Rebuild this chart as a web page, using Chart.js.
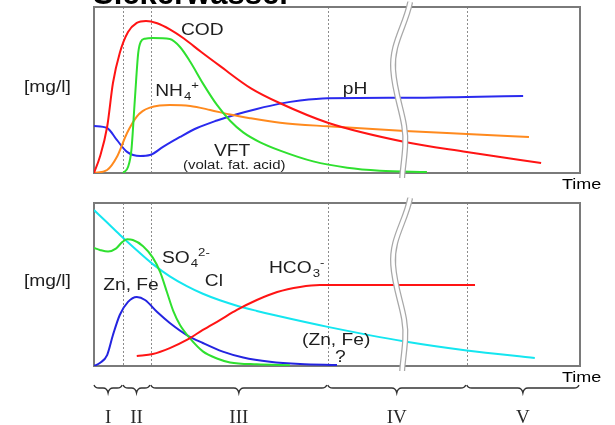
<!DOCTYPE html>
<html>
<head>
<meta charset="utf-8">
<script src="https://cdn.jsdelivr.net/npm/chart.js@4/dist/chart.umd.min.js"></script>
<style>
  html, body { margin: 0; padding: 0; background: #fff; }
  #wrap { position: relative; width: 615px; height: 425px; overflow: hidden; }
  canvas { position: absolute; left: 0; }
  #top { top: 0; }
  #bottom { top: 195px; }
</style>
</head>
<body>
<div id="wrap">
  <canvas id="top" width="615" height="195"></canvas>
  <canvas id="bottom" width="615" height="230"></canvas>
</div>
<script>
// time axis is schematic, 0..100; concentrations are relative, 0..100
const phaseBounds = [0, 6, 11.7, 48.1, 76.7, 100];
const phaseNames = ['I', 'II', 'III', 'IV', 'V'];
const breakAt = 63;

// upper panel: organic parameters [time, value]
const cod = [[0,0],[1.2,9.6],[2.7,27.7],[3.9,54.2],[5.3,72.3],[7,84.9],[8.8,90.4],[10.7,91.6],[13,90.2],
  [15.6,86.5],[18.5,81],[22,73],[25.9,64.5],[32.3,51],[38.3,42],[48.1,30.3],[64,18.7],[76.7,12.7],[87.7,7.8],[92,6]];
const nh4 = [[0,0],[2.7,1.8],[4.7,9.6],[6.8,24.1],[8.8,34],[10,37.3],[11.5,39.4],[13.5,40.6],[15.6,41],[19.8,40.4],
  [23.9,38],[28,35.2],[32.1,33],[38.3,30.3],[48.1,28.1],[64,25.3],[76.7,23.5],[89.5,21.7]];
const vft = [[6,0],[7,3.6],[7.7,13.9],[8.4,44],[9.1,72.3],[9.6,78.9],[10.5,80.9],[12.1,81.3],[15.6,80.7],
  [17.7,75.9],[19.8,67],[22.4,54],[25.3,41],[28,31.5],[30.7,24.5],[34.2,18.5],[38.3,13.5],[45.1,7],
  [52.1,3.2],[58.8,1.4],[68.5,0.6]];
const ph = [[0,28.3],[2.7,27.1],[4.7,19.9],[6.8,12.7],[9.5,10.2],[11.5,10.8],[14.2,15.7],[17.7,21.7],[21.2,27.1],
  [25.3,31.6],[29.4,35.4],[33.5,38.6],[38.3,41.8],[42.4,43.7],[48.1,45.1],[64,45.3],[76.7,45.8],[88.3,46.4]];

// lower panel: inorganic parameters [time, value]
const chloride = [[0,95.7],[2.7,88],[5.3,80.5],[8.8,71],[12.1,62.5],[15.6,55],[19.1,49],[22.4,44.3],
  [25.9,40.3],[29.4,37],[33.5,33.8],[37.7,30.8],[48.1,24],[64,15],[76.7,9.5],[90.7,4.9]];
const sulfate = [[0,72.4],[1.2,71.2],[2.9,70.2],[4.5,72],[5.8,76],[6.8,77.7],[8,77.3],[10.1,73.5],[12.1,66.5],
  [13.6,57.7],[15,45.4],[16.3,33.8],[17.7,25.2],[19.8,16.8],[22.4,9],[25.3,4.6],[28,2.2],[33.5,1],[40.3,0.5]];
const znFe = [[0,0],[1.2,1.8],[2.7,6.7],[3.9,19],[5.3,31.3],[7,39.3],[8.8,42.3],[10.5,40.5],[13,33.1],
  [15.6,26.4],[19.1,19],[22.4,14.1],[26.5,8.8],[30.7,5.2],[36.2,2.6],[42.4,1.2],[50,0.6]];
const hco3 = [[8.8,6.1],[12.1,7.4],[15.6,11],[19.1,16],[22.4,22.1],[25.9,28.2],[29.4,34.4],[33.5,40.5],
  [37.7,45.4],[42.4,48.5],[46.5,49.7],[48.1,49.7],[78.4,49.7]];

const SANS = '"Liberation Sans", Arial, sans-serif';
const SERIF = '"Liberation Serif", "Times New Roman", serif';

function write(ctx, s, x, y, size, o = {}) {
  const k = o.stretch ?? 1.2;
  ctx.save();
  ctx.font = (o.bold ? 'bold ' : '') + size + 'px ' + (o.family || SANS);
  ctx.fillStyle = o.color || '#1e1e1e';
  ctx.textAlign = o.align || 'left';
  ctx.textBaseline = 'alphabetic';
  ctx.translate(x, y);
  ctx.scale(k, 1);
  ctx.fillText(s, 0, 0);
  const w = ctx.measureText(s).width * k;
  ctx.restore();
  return w;
}

function chem(ctx, x, y, l) {
  let px = x + write(ctx, l.text, x, y, l.size || 16) + 1;
  if (l.sub) px += write(ctx, l.sub, px, y + 4, 11);
  if (l.sup) write(ctx, l.sup, px, y - 7, 11);
}

function brace(ctx, x0, x1, yb) {
  const m = (x0 + x1) / 2;
  ctx.beginPath();
  ctx.moveTo(x0 + 1, yb - 3);
  ctx.quadraticCurveTo(x0 + 2, yb, x0 + 6, yb);
  ctx.lineTo(m - 5, yb);
  ctx.quadraticCurveTo(m - 1, yb, m, yb + 5);
  ctx.quadraticCurveTo(m + 1, yb, m + 5, yb);
  ctx.lineTo(x1 - 6, yb);
  ctx.quadraticCurveTo(x1 - 2, yb, x1 - 1, yb - 3);
  ctx.stroke();
}

function panel(cfg) {
  return {
    id: 'panel',
    beforeDatasetsDraw(chart) {
      const { ctx, chartArea: a, scales: { x } } = chart;
      ctx.save();
      ctx.strokeStyle = '#8c8c8c';
      ctx.lineWidth = 1;
      ctx.setLineDash([2, 2]);
      phaseBounds.slice(1, -1).forEach(t => {
        const px = Math.round(x.getPixelForValue(t)) + 0.5;
        ctx.beginPath();
        ctx.moveTo(px, a.top);
        ctx.lineTo(px, a.bottom);
        ctx.stroke();
      });
      ctx.setLineDash([]);
      ctx.strokeStyle = '#7a7a7a';
      ctx.lineWidth = 2;
      ctx.strokeRect(a.left, a.top, a.right - a.left, a.bottom - a.top);
      ctx.restore();
    },
    afterDraw(chart) {
      const { ctx, chartArea: a, scales: { x, y } } = chart;
      // axis break
      const xw = x.getPixelForValue(breakAt), h = a.bottom - a.top;
      ctx.save();
      ctx.beginPath();
      ctx.moveTo(xw + 10, a.top - 5);
      ctx.bezierCurveTo(xw + 5, a.top + 0.12 * h, xw - 9, a.top + 0.22 * h, xw - 7, a.top + 0.38 * h);
      ctx.bezierCurveTo(xw - 5, a.top + 0.56 * h, xw + 7, a.top + 0.68 * h, xw + 5, a.top + 0.84 * h);
      ctx.bezierCurveTo(xw + 4, a.top + 0.93 * h, xw + 2, a.bottom, xw + 2, a.bottom + 5);
      ctx.lineWidth = 6;
      ctx.strokeStyle = '#a8a8a8';
      ctx.stroke();
      ctx.lineWidth = 3.5;
      ctx.strokeStyle = '#fff';
      ctx.stroke();
      ctx.restore();

      cfg.labels.forEach(l => chem(ctx, x.getPixelForValue(l.t), y.getPixelForValue(l.v), l));
      write(ctx, '[mg/l]', 24, Math.round(y.getPixelForValue(49)), 16);
      write(ctx, 'Time', a.right - 18, a.bottom + 16, 15, { color: '#000' });

      if (cfg.title) write(ctx, 'Sickerwasser', 93, 4, 31, { bold: true, stretch: 1, color: '#000' });

      if (cfg.phases) {
        ctx.save();
        ctx.strokeStyle = '#333';
        ctx.lineWidth = 1.3;
        phaseNames.forEach((n, i) => {
          const x0 = x.getPixelForValue(phaseBounds[i]) - 1;
          const x1 = x.getPixelForValue(phaseBounds[i + 1]);
          brace(ctx, x0, x1, a.bottom + 22);
          write(ctx, n, (x0 + x1) / 2, a.bottom + 57, 19, { family: SERIF, stretch: 1, align: 'center', color: '#2a2a2a' });
        });
        ctx.restore();
      }
    }
  };
}

const line = (data, color, extra = {}) => Object.assign({
  data: data.map(([x, y]) => ({ x, y })),
  borderColor: color,
  borderWidth: 2,
  pointRadius: 0,
  fill: false,
  cubicInterpolationMode: 'monotone'
}, extra);

const options = padding => ({
  responsive: false,
  animation: false,
  layout: { padding },
  plugins: { legend: { display: false }, tooltip: { enabled: false } },
  scales: {
    x: { type: 'linear', min: 0, max: 100, display: false },
    y: { min: 0, max: 100, display: false }
  }
});

new Chart(document.getElementById('top'), {
  type: 'line',
  data: {
    datasets: [
      line(cod, '#ff1414'),
      line(vft, '#2fe02f', { segment: { borderColor: c => c.p0.parsed.x >= breakAt ? '#1c9a1c' : undefined } }),
      line(nh4, '#ff8a1e'),
      line(ph, '#2a2aee')
    ]
  },
  options: options({ left: 94, right: 35, top: 7, bottom: 22 }),
  plugins: [panel({
    title: true,
    labels: [
      { text: 'COD', t: 17.9, v: 83.1 },
      { text: 'NH', sub: '4', sup: '+', t: 12.6, v: 46.4 },
      { text: 'pH', t: 51.2, v: 47.6 },
      { text: 'VFT', t: 24.7, v: 10.2 },
      { text: '(volat. fat. acid)', t: 18.3, v: 2.4, size: 12.5 }
    ]
  })]
});

new Chart(document.getElementById('bottom'), {
  type: 'line',
  data: {
    datasets: [
      line(hco3, '#ff1414'),
      line(sulfate, '#2fe02f'),
      line(znFe, '#2424e0'),
      line(chloride, '#14e6f0')
    ]
  },
  options: options({ left: 94, right: 35, top: 8, bottom: 59 }),
  plugins: [panel({
    phases: true,
    labels: [
      { text: 'SO', sub: '4', sup: '2-', t: 14.0, v: 63.2 },
      { text: 'Cl', t: 22.8, v: 49.1 },
      { text: 'Zn, Fe', t: 1.9, v: 46.6 },
      { text: 'HCO', sub: '3', sup: '-', t: 36.0, v: 57.1 },
      { text: '(Zn, Fe)', t: 42.8, v: 12.9 },
      { text: '?', t: 49.6, v: 2.5 }
    ]
  })]
});
</script>
</body>
</html>
